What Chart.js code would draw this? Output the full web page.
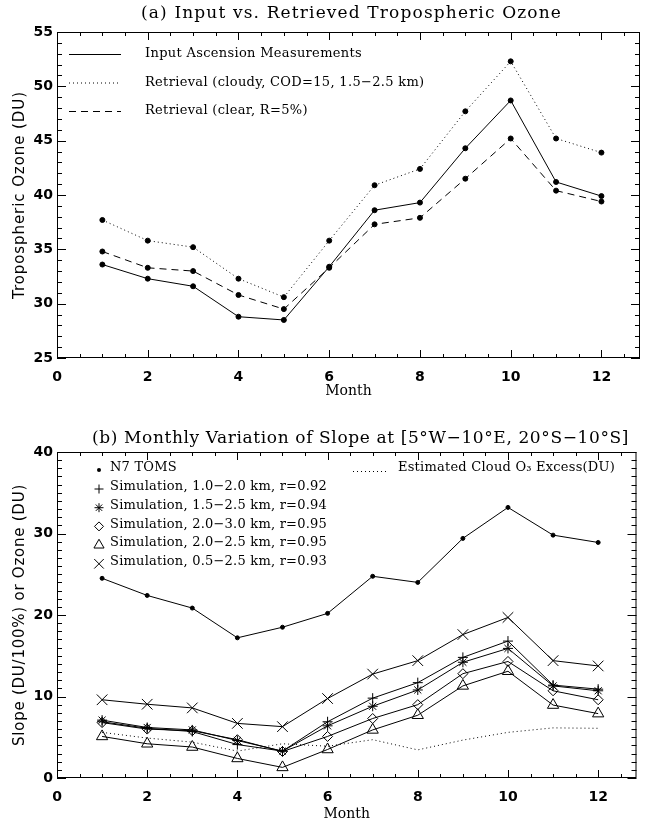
<html>
  <head>
    <style>
      body { margin: 0; overflow: hidden; background: #fff; }
      canvas { position: absolute; left: 0; }
    </style>
  </head>

  <body>
    <canvas id="chartA" width="645" height="410" style="top: 0px"></canvas>
    <canvas id="chartB" width="645" height="420" style="top: 410px"></canvas>

    <script src="https://cdn.jsdelivr.net/npm/chart.js@4.4.1/dist/chart.umd.min.js"></script>
    <script>
      // month axis, shared by both panels
      const months = [1, 2, 3, 4, 5, 6, 7, 8, 9, 10, 11, 12]

      // (a) tropospheric ozone, DU
      const inputAscension = [33.6, 32.3, 31.6, 28.8, 28.5, 33.4, 38.6, 39.3, 44.3, 48.7, 41.2, 39.9]
      const retrievalCloudy = [37.7, 35.8, 35.2, 32.3, 30.6, 35.8, 40.9, 42.4, 47.7, 52.3, 45.2, 43.9]
      const retrievalClear = [34.8, 33.3, 33.0, 30.8, 29.5, 33.3, 37.3, 37.9, 41.5, 45.2, 40.4, 39.4]

      // (b) slope / ozone
      const n7Toms = [24.5, 22.4, 20.85, 17.2, 18.5, 20.2, 24.75, 24.0, 29.4, 33.2, 29.8, 28.9]
      const sim10to20 = [6.9, 6.1, 5.7, 4.1, 3.3, 6.9, 9.8, 11.7, 14.8, 16.8, 11.4, 10.9]
      const sim15to25 = [7.1, 6.2, 5.9, 4.6, 3.3, 6.4, 8.8, 10.8, 14.2, 15.9, 11.3, 10.7]
      const sim20to30 = [6.8, 6.0, 5.8, 4.7, 3.25, 5.1, 7.3, 9.0, 12.8, 14.3, 10.7, 9.6]
      const sim20to25 = [5.1, 4.2, 3.8, 2.4, 1.3, 3.5, 5.9, 7.7, 11.3, 13.1, 8.95, 7.9]
      const sim05to25 = [9.6, 9.05, 8.6, 6.7, 6.3, 9.75, 12.75, 14.4, 17.6, 19.7, 14.4, 13.75]
      const cloudExcess = [5.6, 4.9, 4.4, 3.3, 4.2, 3.9, 4.7, 3.45, 4.65, 5.6, 6.15, 6.1]

      const xTicks = [0, 2, 4, 6, 8, 10, 12]

      const SERIF = '"DejaVu Serif"'
      const SANS = '"DejaVu Sans"'
      const DOT = [1, 3]
      const DASH = [7, 5]

      const pts = (vals) => vals.map((v, i) => ({ x: months[i], y: v }))

      function series(vals, o) {
        return Object.assign({
          data: pts(vals),
          borderColor: '#000',
          backgroundColor: '#000',
          borderWidth: 1,
          pointBorderWidth: 1,
          pointRadius: 2.5,
          pointStyle: 'circle',
          tension: 0,
        }, o)
      }

      // letter spacing that makes text span w pixels
      function spacingFor(ctx, text, w) {
        ctx.letterSpacing = '0px'
        return (w - ctx.measureText(text).width) / text.length
      }
      function spaced(ctx, text, x, y, ls) {
        ctx.letterSpacing = ls + 'px'
        ctx.fillText(text, x, y)
        ctx.letterSpacing = '0px'
      }

      // box with inward ticks on all sides, titles and hand-placed legend
      const frame = {
        id: 'frame',
        afterDraw(chart, args, opts) {
          const { ctx, chartArea: a, scales: { x, y } } = chart
          ctx.save()
          ctx.strokeStyle = '#000'
          ctx.fillStyle = '#000'
          ctx.lineWidth = 1
          ctx.setLineDash([])
          ctx.strokeRect(a.left + 0.5, a.top + 0.5, a.right - a.left - 1, a.bottom - a.top - 1)
          ctx.beginPath()
          for (let v = 0; v <= x.max + 1e-6; v += 0.5) {
            const px = Math.round(x.getPixelForValue(v)) + 0.5
            const len = v % 2 === 0 ? 8 : 4
            ctx.moveTo(px, a.bottom); ctx.lineTo(px, a.bottom - len)
            ctx.moveTo(px, a.top); ctx.lineTo(px, a.top + len)
          }
          for (let v = y.min; v <= y.max + 1e-6; v += 1) {
            const py = Math.round(y.getPixelForValue(v)) + 0.5
            const len = (v - y.min) % opts.major === 0 ? 9 : 5
            ctx.moveTo(a.left, py); ctx.lineTo(a.left + len, py)
            ctx.moveTo(a.right, py); ctx.lineTo(a.right - len, py)
          }
          ctx.stroke()

          ctx.textBaseline = 'middle'
          ctx.textAlign = 'left'

          // panel title
          ctx.font = '17px ' + SERIF
          spaced(ctx, opts.title, opts.titleX[0], opts.titleY,
            spacingFor(ctx, opts.title, opts.titleX[1] - opts.titleX[0]))

          // y axis title, rotated
          ctx.font = '15px ' + SANS
          const ls = spacingFor(ctx, opts.yTitle, opts.yTitleLen)
          ctx.letterSpacing = ls + 'px'
          const tw = ctx.measureText(opts.yTitle).width
          ctx.translate(20, (a.top + a.bottom) / 2)
          ctx.rotate(-Math.PI / 2)
          ctx.fillText(opts.yTitle, -tw / 2, 0)
          ctx.setTransform(1, 0, 0, 1, 0, 0)
          ctx.letterSpacing = '0px'

          opts.legend(ctx)
          ctx.restore()
        },
      }

      function axes(yMin, yMax, yStep, xTitlePad) {
        return {
          x: {
            type: 'linear', min: 0, max: 12.85,
            afterFit: (s) => { s.height = 52 },
            afterBuildTicks: (s) => { s.ticks = xTicks.map((v) => ({ value: v })) },
            grid: { display: false, drawTicks: false },
            border: { display: false },
            ticks: { color: '#000', padding: 11, maxRotation: 0, font: { family: SANS, size: 14, weight: 'bold' } },
            title: { display: true, text: 'Month', color: '#000', padding: { top: 0, bottom: xTitlePad }, font: { family: SERIF, size: 14 } },
          },
          y: {
            min: yMin, max: yMax,
            afterFit: (s) => { s.width = 57 },
            grid: { display: false, drawTicks: false },
            border: { display: false },
            ticks: { stepSize: yStep, color: '#000', padding: 4, font: { family: SANS, size: 14, weight: 'bold' } },
          },
        }
      }

      const base = {
        type: 'line',
        plugins: [frame],
      }

      // ---------- (a) ----------
      new Chart(document.getElementById('chartA'), {
        ...base,
        data: {
          datasets: [
            series(inputAscension, { label: 'Input Ascension Measurements' }),
            series(retrievalCloudy, { label: 'Retrieval (cloudy, COD=15, 1.5-2.5 km)', borderDash: DOT }),
            series(retrievalClear, { label: 'Retrieval (clear, R=5%)', borderDash: DASH }),
          ],
        },
        options: {
          responsive: false,
          animation: false,
          layout: { padding: { top: 32, right: 2, left: 0, bottom: 0 } },
          scales: axes(25, 55, 5, 10),
          plugins: {
            legend: { display: false },
            tooltip: { enabled: false },
            frame: {
              major: 5,
              title: '(a) Input vs. Retrieved Tropospheric Ozone',
              titleX: [141, 562],
              titleY: 14,
              yTitle: 'Tropospheric Ozone (DU)',
              yTitleLen: 208,
              legend(ctx) {
                const rows = [
                  ['Input Ascension Measurements', []],
                  ['Retrieval (cloudy, COD=15, 1.5\u22122.5 km)', DOT],
                  ['Retrieval (clear, R=5%)', DASH],
                ]
                ctx.font = '13px ' + SERIF
                const ls = spacingFor(ctx, rows[0][0], 217)
                rows.forEach(([t, dash], i) => {
                  const yy = 54 + i * 28.5
                  ctx.setLineDash(dash)
                  ctx.beginPath()
                  ctx.moveTo(69, yy + 0.5); ctx.lineTo(121, yy + 0.5)
                  ctx.stroke()
                  spaced(ctx, t, 145, yy, ls)
                })
                ctx.setLineDash([])
              },
            },
          },
        },
      })

      // ---------- (b) ----------
      const bMarks = [
        { pointStyle: 'cross', pointRadius: 5, label: 'Simulation, 1.0\u22122.0 km, r=0.92' },
        { pointStyle: 'star', pointRadius: 5, label: 'Simulation, 1.5\u22122.5 km, r=0.94' },
        { pointStyle: 'rectRot', pointRadius: 5, label: 'Simulation, 2.0\u22123.0 km, r=0.95' },
        { pointStyle: 'triangle', pointRadius: 6.5, label: 'Simulation, 2.0\u22122.5 km, r=0.95' },
        { pointStyle: 'crossRot', pointRadius: 7.5, label: 'Simulation, 0.5\u22122.5 km, r=0.93' },
      ]
      const bVals = [sim10to20, sim15to25, sim20to30, sim20to25, sim05to25]

      new Chart(document.getElementById('chartB'), {
        ...base,
        data: {
          datasets: [
            series(cloudExcess, { label: 'Estimated Cloud O3 Excess(DU)', borderDash: DOT, pointRadius: 0 }),
            series(n7Toms, { label: 'N7 TOMS', pointRadius: 2 }),
            ...bVals.map((v, i) => series(v, {
              label: bMarks[i].label,
              pointStyle: bMarks[i].pointStyle,
              pointRadius: bMarks[i].pointRadius,
              backgroundColor: 'rgba(0,0,0,0)',
            })),
          ],
        },
        options: {
          responsive: false,
          animation: false,
          layout: { padding: { top: 42, right: 2, left: 0, bottom: 0 } },
          scales: axes(0, 40, 10, 7),
          plugins: {
            legend: { display: false },
            tooltip: { enabled: false },
            frame: {
              major: 10,
              title: '(b) Monthly Variation of Slope at [5\u00b0W\u221210\u00b0E, 20\u00b0S\u221210\u00b0S]',
              titleX: [92, 629],
              titleY: 29,
              yTitle: 'Slope (DU/100%) or Ozone (DU)',
              yTitleLen: 262,
              legend(ctx) {
                const dp = Chart.helpers && Chart.helpers.drawPoint
                ctx.font = '13px ' + SERIF
                const ls = spacingFor(ctx, bMarks[0].label, 217)
                spaced(ctx, 'N7 TOMS', 110, 58, ls)
                ctx.beginPath(); ctx.arc(99, 60, 2, 0, Math.PI * 2); ctx.fill()
                bMarks.forEach((m, i) => {
                  const yy = 77 + i * 18.7
                  spaced(ctx, m.label, 110, yy, ls)
                  if (dp) {
                    ctx.fillStyle = 'rgba(0,0,0,0)'
                    dp(ctx, { pointStyle: m.pointStyle, radius: m.pointRadius * 0.9, rotation: 0, borderWidth: 1 }, 99, yy + 2)
                    ctx.fillStyle = '#000'
                  }
                })
                ctx.setLineDash(DOT)
                ctx.beginPath(); ctx.moveTo(353, 61.5); ctx.lineTo(386, 61.5); ctx.stroke()
                ctx.setLineDash([])
                spaced(ctx, 'Estimated Cloud O\u2083 Excess(DU)', 398, 58,
                  spacingFor(ctx, 'Estimated Cloud O\u2083 Excess(DU)', 217))
              },
            },
          },
        },
      })
    </script>
  </body>
</html>
